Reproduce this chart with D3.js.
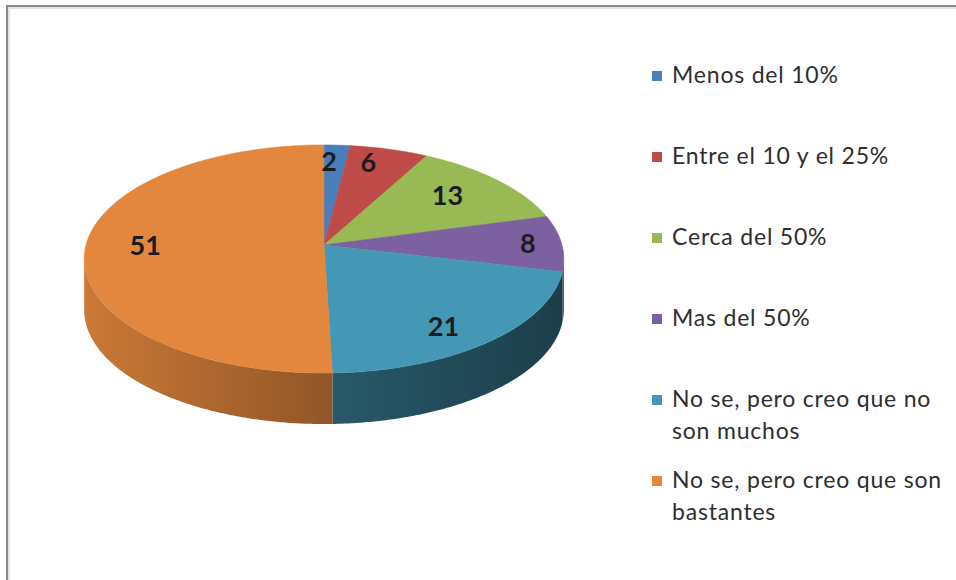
<!DOCTYPE html>
<html>
<head>
<meta charset="utf-8">
<script src="https://cdn.jsdelivr.net/npm/d3@7"></script>
<style>
  html, body { margin: 0; padding: 0; background: #fff; }
  svg { display: block; }
</style>
</head>
<body>
<svg id="chart"></svg>
<script>
const categories = [
  "Menos del 10%",
  "Entre el 10 y el 25%",
  "Cerca del 50%",
  "Mas del 50%",
  "No se, pero creo que no son muchos",
  "No se, pero creo que son bastantes"
];
const values = [2, 6, 13, 8, 21, 51];

const colors = ["#4a7ebb", "#be4b48", "#98b954", "#7d60a0", "#4598b5", "#e2873d"];
// how much each side strip is darkened at its left and right end
const sideDarken = [[0.8, 1.2], [0.8, 1.2], [0.8, 1.2], [1.2, 1.8], [1.5, 2.5], [0.3, 1.25]];
// label placement: fraction of radius and small pixel nudges
const labelRadius = [0.75, 0.75, 0.75, 0.858, 0.75, 0.75];
const labelNudge = [[-5, -6], [-6, -9], [-9, 0], [0, 0], [-2, 11], [0, -1]];

const width = 956, height = 580;

const svg = d3.select("#chart")
    .attr("width", width)
    .attr("height", height)
    .attr("viewBox", [0, 0, width, height]);

// frame
svg.append("rect")
    .attr("x", 7).attr("y", 6)
    .attr("width", width + 20).attr("height", height + 20)
    .attr("fill", "none")
    .attr("stroke", "#8a8a8a")
    .attr("stroke-width", 2);
svg.append("rect")
    .attr("x", 9).attr("y", 8)
    .attr("width", width + 20).attr("height", height + 20)
    .attr("fill", "none")
    .attr("stroke", "#dcdcdc")
    .attr("stroke-width", 1.5);

// 3D pie: top face seen in perspective
const cx = 324, cy = 245;       // projected centre
const rx = 238, ry = 112.3;     // scale of the tilted disk
const persp = 0.1228;           // perspective strength
const depth = 51;

function project(angle, r) {
  const u = r * Math.sin(angle), v = -r * Math.cos(angle);
  const w = 1 - persp * v;
  return [cx + rx * u / w, cy + ry * v / w];
}

function arcPoints(a0, a1, r) {
  const n = Math.max(2, Math.ceil((a1 - a0) / (Math.PI / 360)));
  return d3.range(n + 1).map(i => project(a0 + (a1 - a0) * i / n, r));
}

const pie = d3.pie().sort(null).value(d => d)(values);
const line = d3.line();

// silhouette: the front part of the rim runs from the rightmost to the leftmost point
const frontStart = Math.acos(-persp);
const frontEnd = 2 * Math.PI - frontStart;

const defs = svg.append("defs");
pie.forEach((d, i) => {
  const c = d3.color(colors[i]);
  const g = defs.append("linearGradient")
      .attr("id", `side${i}`)
      .attr("x1", 0).attr("x2", 1).attr("y1", 0).attr("y2", 0);
  g.append("stop").attr("offset", 0).attr("stop-color", c.darker(sideDarken[i][0]));
  g.append("stop").attr("offset", 1).attr("stop-color", c.darker(sideDarken[i][1]));
});

const sides = svg.append("g");
pie.forEach((d, i) => {
  const a0 = Math.max(d.startAngle, frontStart);
  const a1 = Math.min(d.endAngle, frontEnd);
  if (a1 <= a0) return;
  const top = arcPoints(a0, a1, 1);
  const bottom = top.map(p => [p[0], p[1] + depth]).reverse();
  sides.append("path")
      .attr("d", line(top.concat(bottom)) + "Z")
      .attr("fill", `url(#side${i})`);
});

const tops = svg.append("g");
pie.forEach((d, i) => {
  const pts = [project(0, 0)].concat(arcPoints(d.startAngle, d.endAngle, 1));
  tops.append("path")
      .attr("d", line(pts) + "Z")
      .attr("fill", colors[i])
      .attr("stroke", colors[i])
      .attr("stroke-width", 0.6);
});

// value labels
svg.append("g")
  .selectAll("text")
  .data(pie)
  .join("text")
    .attr("transform", (d, i) => {
      const p = project((d.startAngle + d.endAngle) / 2, labelRadius[i]);
      return `translate(${p[0] + labelNudge[i][0]},${p[1] + labelNudge[i][1]})`;
    })
    .attr("text-anchor", "middle")
    .attr("dy", "0.35em")
    .attr("font-family", "Lato, 'Open Sans', sans-serif")
    .attr("font-weight", "bold")
    .attr("font-size", 27)
    .attr("fill", "#1b1b22")
    .text(d => d.data);

// legend
const legendX = 652, legendTop = 83, rowStep = 81, lineStep = 32, maxText = 275;
const legend = svg.append("g")
    .attr("font-family", "Lato, 'Open Sans', sans-serif")
    .attr("font-size", 23)
    .attr("letter-spacing", 0.8)
    .attr("fill", "#2e2e2e");

categories.forEach((name, i) => {
  const y = legendTop + i * rowStep;
  legend.append("rect")
      .attr("x", legendX).attr("y", y - 12)
      .attr("width", 10).attr("height", 10)
      .attr("fill", colors[i]);
  const text = legend.append("text")
      .attr("x", legendX + 20)
      .attr("y", y);
  // wrap words that do not fit
  const words = name.split(" ");
  let lineNo = 0, current = [];
  let tspan = text.append("tspan").attr("x", legendX + 20).attr("y", y);
  words.forEach(w => {
    current.push(w);
    tspan.text(current.join(" "));
    if (tspan.node().getComputedTextLength() > maxText && current.length > 1) {
      current.pop();
      tspan.text(current.join(" "));
      current = [w];
      lineNo++;
      tspan = text.append("tspan")
          .attr("x", legendX + 20)
          .attr("y", y + lineNo * lineStep)
          .text(w);
    }
  });
});
</script>
</body>
</html>
